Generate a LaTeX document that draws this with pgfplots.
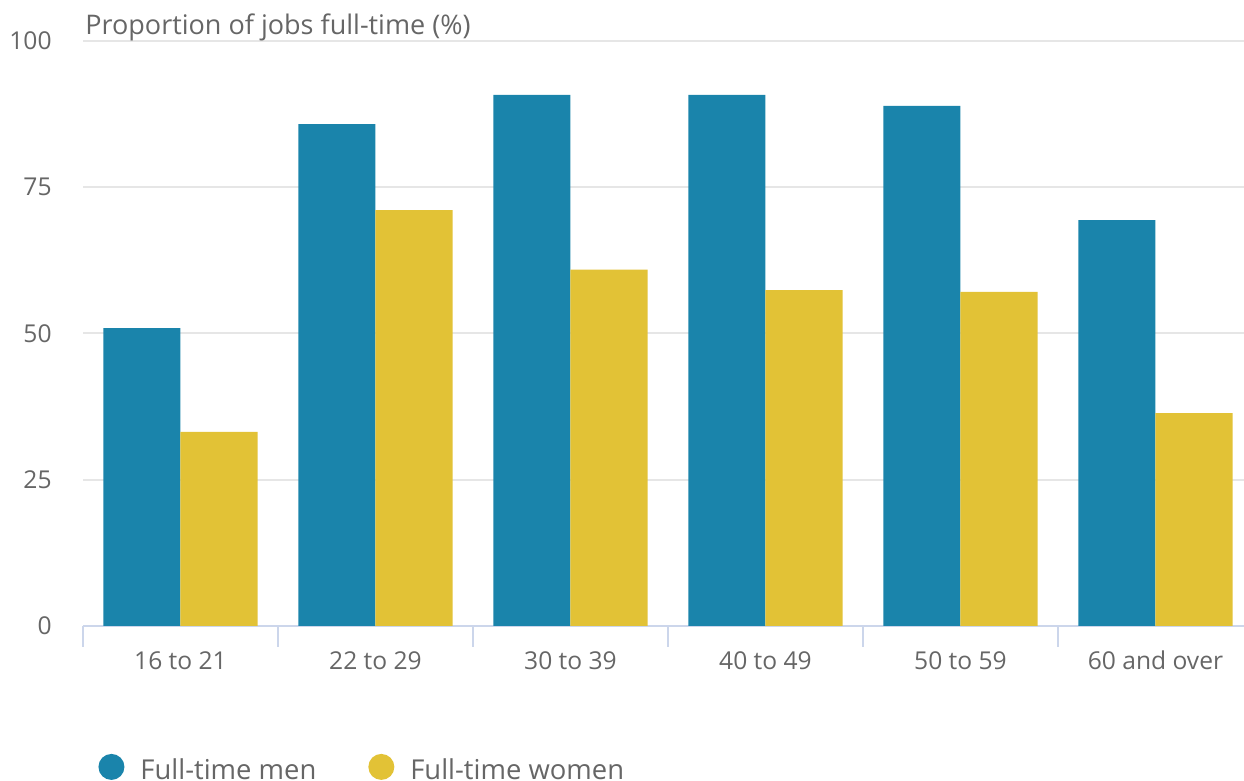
\documentclass[border=0pt]{standalone}
\usepackage{fontspec}
\setmainfont{Open Sans}
\usepackage{pgfplots}
\pgfplotsset{compat=1.18}
\definecolor{menblue}{HTML}{1A84AB}
\definecolor{womenyellow}{HTML}{E2C236}
\definecolor{gridgrey}{HTML}{E6E6E6}
\definecolor{axisblue}{HTML}{CCD6EB}
\definecolor{labelgrey}{HTML}{666666}

\begin{document}
\begin{tikzpicture}
\useasboundingbox (-41.5pt,-77.5pt) rectangle (580.5pt,313pt);
\clip (-41.5pt,-77.5pt) rectangle (580.5pt,313pt);
\begin{axis}[
    at={(0pt,0pt)}, anchor=south west,
    scale only axis,
    width=580.5pt, height=292.5pt,
    ybar=0pt, bar width=0.395,
    xmin=-0.5, xmax=5.454,
    ymin=0, ymax=100,
    xtick={0,1,2,3,4,5},
    xticklabels={16 to 21,22 to 29,30 to 39,40 to 49,50 to 59,60 and over},
    major tick length=0pt,
    extra x ticks={-0.5,0.5,1.5,2.5,3.5,4.5},
    extra x tick labels={},
    extra x tick style={major tick length=10.5pt, tick align=outside,
        tick style={draw=axisblue, line width=1pt}, grid=none},
    ytick={0,25,50,75,100},
    ymajorgrids, grid style={gridgrey, line width=1pt},
    axis lines*=left,
    x axis line style={axisblue, line width=1pt},
    y axis line style={draw=none},
    ytick style={draw=none},
    /pgf/number format/assume math mode=true,
    tick label style={font=\fontsize{12.3}{14}\selectfont, text=labelgrey},
    yticklabel style={inner sep=0pt, xshift=-15.5pt},
    xticklabel style={anchor=base, inner sep=0pt, yshift=-22pt},
    legend columns=2,
    legend style={draw=none, fill=none, at={(0.0078,-0.2468)}, anchor=west,
        font=\fontsize{13.7}{16}\selectfont, text=labelgrey,
        /tikz/every odd column/.append style={column sep=6pt},
        /tikz/every even column/.append style={column sep=24pt}},
]
\addplot[fill=menblue, draw=none,
    legend image code/.code={\fill[menblue] (6.5pt,2pt) circle (6.5pt);}]
    coordinates {(0,50.9) (1,85.8) (2,90.8) (3,90.8) (4,88.9) (5,69.4)};
\addplot[fill=womenyellow, draw=none,
    legend image code/.code={\fill[womenyellow] (6.5pt,2pt) circle (6.5pt);}]
    coordinates {(0,33.2) (1,71.1) (2,60.9) (3,57.4) (4,57.1) (5,36.4)};
\legend{Full-time men, Full-time women}
\end{axis}
\node[anchor=base west, inner sep=0pt, text=labelgrey,
    font=\fontsize{13.5}{16}\selectfont] at (1pt,295.5pt)
    {Proportion of jobs full-time (\%)};
\end{tikzpicture}
\end{document}
